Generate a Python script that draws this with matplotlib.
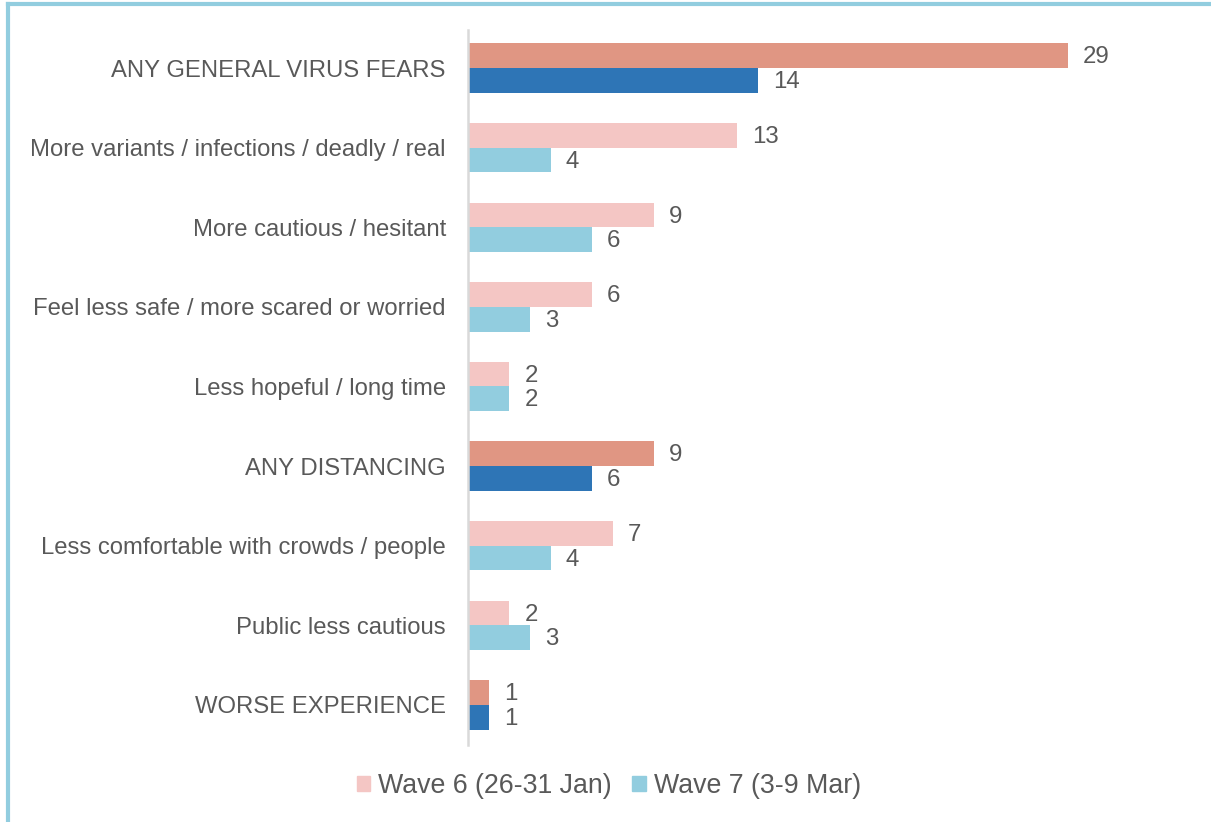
import matplotlib
matplotlib.use("Agg")
import matplotlib.pyplot as plt
from matplotlib.patches import Patch
from matplotlib.lines import Line2D

# data
categories = [
    "ANY GENERAL VIRUS FEARS",
    "More variants / infections / deadly / real",
    "More cautious / hesitant",
    "Feel less safe / more scared or worried",
    "Less hopeful / long time",
    "ANY DISTANCING",
    "Less comfortable with crowds / people",
    "Public less cautious",
    "WORSE EXPERIENCE",
]
wave6 = [29, 13, 9, 6, 2, 9, 7, 2, 1]
wave7 = [14, 4, 6, 3, 2, 6, 4, 3, 1]
is_net = [True, False, False, False, False, True, False, False, True]
series_labels = ["Wave 6 (26-31 Jan)", "Wave 7 (3-9 Mar)"]

# colours
w6_light, w6_dark = "#F4C6C4", "#E09683"
w7_light, w7_dark = "#92CDDF", "#2E75B6"
text_col = "#595959"

plt.rcParams["font.family"] = ["Liberation Sans", "DejaVu Sans"]

W, H = 1211, 822
fig = plt.figure(figsize=(W / 100, H / 100), dpi=100)

# axes placed in pixel terms
ax_left, ax_right, ax_top, ax_bottom = 468, 1200, 30, 745
ax = fig.add_axes([ax_left / W, 1 - ax_bottom / H,
                   (ax_right - ax_left) / W, (ax_bottom - ax_top) / H])

px_per_unit = 600 / 29
ax.set_xlim(0, (ax_right - ax_left) / px_per_unit)
spacing = 79.6
ax.set_ylim(8 + (ax_bottom - 705) / spacing, -(68 - ax_top) / spacing)

bh = 0.31
y = list(range(len(categories)))
c6 = [w6_dark if n else w6_light for n in is_net]
c7 = [w7_dark if n else w7_light for n in is_net]
ax.barh([v - bh / 2 for v in y], wave6, height=bh, color=c6)
ax.barh([v + bh / 2 for v in y], wave7, height=bh, color=c7)

off = 15 / px_per_unit
for i in y:
    ax.text(wave6[i] + off, i - bh / 2 + 0.02, str(wave6[i]), va="center",
            ha="left", fontsize=17.3, color=text_col)
    ax.text(wave7[i] + off, i + bh / 2 + 0.02, str(wave7[i]), va="center",
            ha="left", fontsize=17.3, color=text_col)

ax.set_yticks(y)
ax.set_yticklabels(categories, fontsize=17.2, color=text_col)
ax.tick_params(axis="y", length=0, pad=16)
ax.set_xticks([])
for s in ["top", "right", "bottom"]:
    ax.spines[s].set_visible(False)
ax.spines["left"].set_color("#D9D9D9")
ax.spines["left"].set_linewidth(1.8)

handles = [Patch(color=w6_light), Patch(color=w7_light)]
fig.legend(handles, series_labels, loc="center left", ncol=2,
           bbox_to_anchor=(357 / W, 1 - 786 / H), frameon=False,
           fontsize=19.3, labelcolor=text_col, handlelength=0.5,
           handleheight=0.5, handletextpad=0.3, columnspacing=0.75,
           borderpad=0, borderaxespad=0)

# border (top and left edges)
fig.add_artist(Line2D([7.5 / W, 1], [1 - 4.5 / H, 1 - 4.5 / H],
                      transform=fig.transFigure, color=w7_light, lw=3))
fig.add_artist(Line2D([7.5 / W, 7.5 / W], [0, 1 - 4.5 / H],
                      transform=fig.transFigure, color=w7_light, lw=3))

fig.savefig("out.png", dpi=100)
